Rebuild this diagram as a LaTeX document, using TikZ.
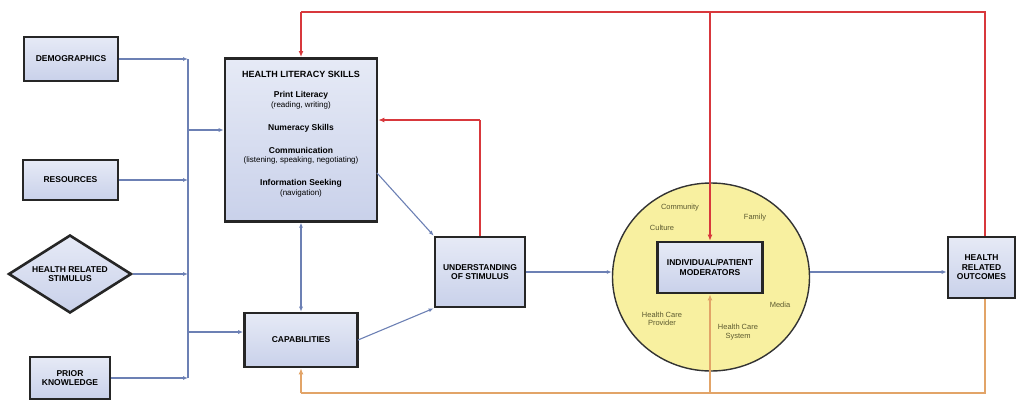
\documentclass[tikz,border=0pt]{standalone}
\usepackage{fontspec}
\setmainfont{Liberation Sans}
\usetikzlibrary{shapes.geometric,arrows.meta}
\definecolor{boxfill}{HTML}{C9D1EA}
\definecolor{boxtop}{HTML}{E6EAF6}
\definecolor{bluel}{HTML}{6C80B4}
\definecolor{redl}{HTML}{D8383C}
\definecolor{orl}{HTML}{E2A468}
\definecolor{circfill}{HTML}{F8F0A0}
\definecolor{circtext}{HTML}{5C5A30}
\tikzset{
  box/.style={draw=black!85, line width=2.6pt, top color=boxtop, bottom color=boxfill,
    inner sep=0pt, align=center, font=\fontsize{8.5}{9.5}\selectfont\bfseries},
  boxlabel/.style={inner sep=0pt, align=center, font=\fontsize{8.5}{9.5}\selectfont\bfseries},
  hlsb/.style={font=\fontsize{8.5}{9.5}\selectfont\bfseries, inner sep=0pt},
  hlsn/.style={font=\fontsize{8}{9}\selectfont, inner sep=0pt},
  bluearrow/.style={draw=bluel, line width=1.1pt, -{Latex[length=5pt,width=4pt]}},
  blueline/.style={draw=bluel, line width=1.1pt},
  redarrow/.style={draw=redl, line width=1.8pt, -{Latex[length=6pt,width=5pt]}},
  redline/.style={draw=redl, line width=1.8pt},
  orarrow/.style={draw=orl, line width=1.8pt, -{Latex[length=6pt,width=5pt]}},
  orline/.style={draw=orl, line width=1.8pt},
  circlab/.style={font=\fontsize{7.5}{8.5}\selectfont, text=circtext, align=center, inner sep=0pt},
}
\begin{document}
\begin{tikzpicture}[x=1pt,y=-1pt]
\useasboundingbox (0,0) rectangle (1018,400);
% nodes
\node[box, minimum width=94, minimum height=44] (demo) at (71,59) {DEMOGRAPHICS};
\node[box, minimum width=95, minimum height=40] (res) at (70.5,180) {RESOURCES};
\node[box, diamond, minimum width=123, minimum height=78] (stim) at (70,274) {};
\node[boxlabel] (stimlab) at (70,274) {HEALTH RELATED\\STIMULUS};
\node[box, minimum width=80, minimum height=42] (prior) at (70,378) {PRIOR\\KNOWLEDGE};
\node[box, minimum width=152, minimum height=163, anchor=north] (hls) at (301,57) {};
\node[font=\fontsize{9}{10}\selectfont\bfseries, inner sep=0pt] (hlstitle) at (301,74) {HEALTH LITERACY SKILLS};
\node[hlsb] (h1) at (301,95) {Print Literacy};
\node[hlsn] (h2) at (301,105) {(reading, writing)};
\node[hlsb] (h3) at (301,128) {Numeracy Skills};
\node[hlsb] (h4) at (301,150) {Communication};
\node[hlsn] (h5) at (301,160) {(listening, speaking, negotiating)};
\node[hlsb] (h6) at (301,183) {Information Seeking};
\node[hlsn] (h7) at (301,193) {(navigation)};
\node[box, minimum width=113, minimum height=54] (cap) at (301,340) {CAPABILITIES};
\node[box, minimum width=90, minimum height=70] (uos) at (480,272) {UNDERSTANDING\\OF STIMULUS};
\node[ellipse, draw=black!80, line width=1.4pt, fill=circfill, minimum width=197, minimum height=188] (circ) at (711,277) {};
\node[box, minimum width=105, minimum height=51] (mod) at (710,267.5) {INDIVIDUAL/PATIENT\\MODERATORS};
\node[box, minimum width=67, minimum height=61] (hro) at (981.5,267.5) {HEALTH\\RELATED\\OUTCOMES};
% circle labels
\node[circlab] (lcom) at (680,208) {Community};
\node[circlab] (lcul) at (662,228) {Culture};
\node[circlab] (lfam) at (755,218) {Family};
\node[circlab] (lmed) at (780,305) {Media};
\node[circlab] (lhcp) at (662,319) {Health Care\\Provider};
\node[circlab] (lhcs) at (738,332) {Health Care\\System};
% bus
\coordinate (bustop) at (188,59);
\coordinate (busbot) at (188,378);
\draw[blueline] (bustop) -- (busbot);
\draw[bluearrow] (demo.east) -- (demo.east -| bustop);
\draw[bluearrow] (res.east) -- (res.east -| bustop);
\draw[bluearrow] (stim.east) -- (stim.east -| bustop);
\draw[bluearrow] (prior.east) -- (prior.east -| bustop);
\coordinate (bushls) at (188,130);
\coordinate (buscap) at (188,332);
\draw[bluearrow] (bushls) -- (bushls -| hls.west);
\draw[bluearrow] (buscap) -- (buscap -| cap.west);
% blue connectors
\draw[bluel, line width=1.1pt, {Latex[length=5pt,width=4pt]}-{Latex[length=5pt,width=4pt]}] (hls.south) -- (cap.north);
\coordinate (hlsout) at (377,173);
\draw[bluearrow] (hlsout) -- (uos.north west);
\coordinate (capout) at (358,340);
\draw[bluearrow] (capout) -- (uos.south west);
\draw[bluearrow] (uos.east) -- (uos.east -| circ.west);
\draw[bluearrow] (uos.east -| circ.east) -- (uos.east -| hro.west);
% red feedback
\coordinate (rtop) at (985,12);
\coordinate (rleft) at (301,12);
\coordinate (rmid) at (710,12);
\draw[redline] (hro.north -| rtop) -- (rtop) -- (rleft);
\draw[redarrow] (rleft) -- (hls.north);
\draw[redarrow] (rmid) -- (mod.north);
\coordinate (ruos) at (480,120);
\draw[redline] (uos.north) -- (ruos);
\draw[redarrow] (ruos) -- (ruos -| hls.east);
% orange
\coordinate (obot) at (985,393);
\coordinate (oleft) at (301,393);
\coordinate (omid) at (710,393);
\draw[orline] (hro.south -| obot) -- (obot) -- (oleft);
\draw[orarrow] (oleft) -- (cap.south);
\draw[orarrow] (omid) -- (mod.south);
\end{tikzpicture}
\end{document}
